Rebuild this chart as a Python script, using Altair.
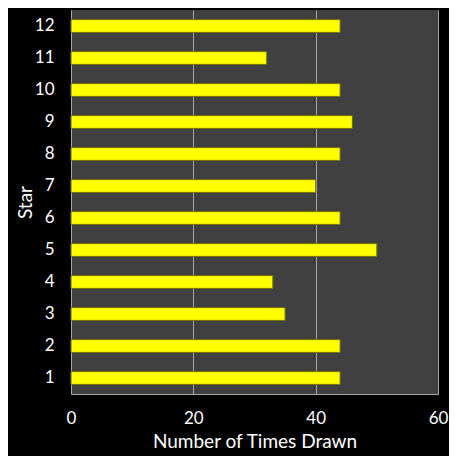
import altair as alt
import pandas as pd

stars = ["1", "2", "3", "4", "5", "6", "7", "8", "9", "10", "11", "12"]
times_drawn = [44, 44, 35, 33, 50, 44, 40, 44, 46, 44, 32, 44]
x_ticks = [0, 20, 40, 60]

df = pd.DataFrame({"Star": stars, "Count": times_drawn})

FONT = "Lato"

chart = alt.Chart(df).mark_bar(
    color="#ffff00", stroke="#6e6e00", strokeWidth=1
).encode(
    x=alt.X("Count:Q", title="Number of Times Drawn",
            scale=alt.Scale(domain=[0, 60], nice=False),
            axis=alt.Axis(values=x_ticks, grid=True, gridColor="#a6a6a6", gridWidth=1,
                          ticks=False, domain=True, domainColor="#a6a6a6",
                          labelFlush=False, labelOverlap=False,
                          labelColor="white", labelFont=FONT, labelFontSize=17,
                          labelPadding=16, titleColor="white", titleFont=FONT,
                          titleFontSize=19, titleFontWeight="normal", titlePadding=6)),
    y=alt.Y("Star:N", sort=list(reversed(stars)), title="Star",
            scale=alt.Scale(paddingInner=0.6, paddingOuter=0.3),
            axis=alt.Axis(grid=False, ticks=False, domain=True, domainColor="#a6a6a6",
                          labelColor="white", labelFont=FONT, labelFontSize=17,
                          labelPadding=17, labelAngle=0, titleColor="white", titleFont=FONT,
                          titleFontSize=19, titleFontWeight="normal",
                          titleX=-46, titleY=192, titleAngle=270,
                          titleAlign="center", titleBaseline="middle")),
).properties(
    width=367, height=384,
    background="black",
    autosize=alt.AutoSizeParams(type="none"),
    padding={"left": 63, "top": 2, "right": 11, "bottom": 62},
).configure_view(fill="#404040", stroke=None)

chart.save("out.html", embed_options={"renderer": "svg", "actions": False})
